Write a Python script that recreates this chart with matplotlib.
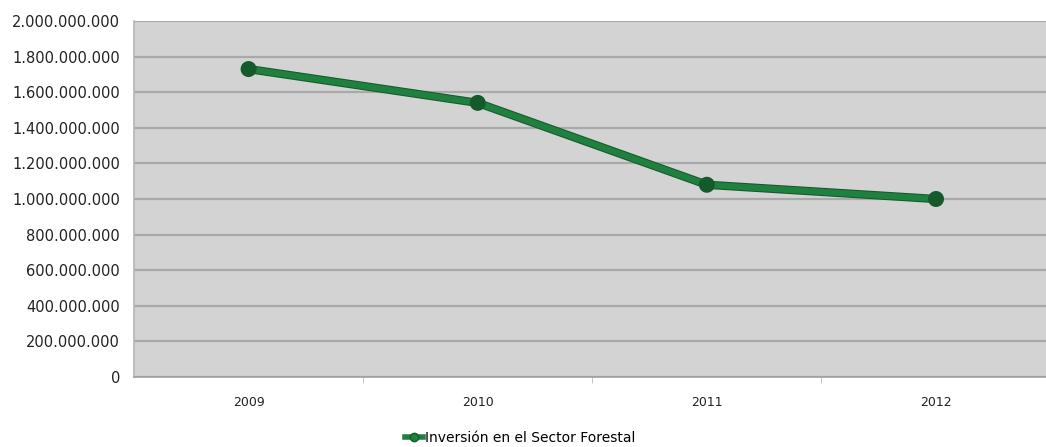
import matplotlib
matplotlib.use("Agg")
from matplotlib import pyplot as plt
from matplotlib.ticker import FuncFormatter, FixedLocator
from matplotlib.lines import Line2D
import matplotlib.patheffects as pe

years = ["2009", "2010", "2011", "2012"]
inversion = [1730000000, 1540000000, 1080000000, 1000000000]
series_name = "Inversión en el Sector Forestal"

LINE_COLOR = "#1f8040"
EDGE_COLOR = "#145a2b"

fig = plt.figure(figsize=(10.46, 4.47), dpi=100)
ax = fig.add_axes([134 / 1046, 1 - 377 / 447, 1 - 134 / 1046, 356 / 447])
ax.set_facecolor("#d3d3d3")

x = list(range(len(years)))
ax.plot(x, inversion, color=LINE_COLOR, linewidth=4.5, marker="o", markersize=5.5,
        markerfacecolor=EDGE_COLOR, markeredgecolor=EDGE_COLOR,
        path_effects=[pe.Stroke(linewidth=6, foreground=EDGE_COLOR), pe.Normal()],
        zorder=3)

ax.set_ylim(0, 2000000000)
ax.set_yticks(range(0, 2000000001, 200000000))
ax.yaxis.set_major_formatter(FuncFormatter(lambda v, p: f"{int(v):,}".replace(",", ".")))
ax.grid(axis="y", color="#a9a9a9", linewidth=1.6)
ax.set_axisbelow(True)

ax.set_xlim(-0.5, 3.48)
ax.set_xticks(x)
ax.set_xticklabels(years)
ax.xaxis.set_minor_locator(FixedLocator([0.5, 1.5, 2.5]))
ax.tick_params(axis="x", which="major", length=0, pad=14, labelsize=9, colors="#222222")
ax.tick_params(axis="x", which="minor", length=4, color="#bbbbbb")
ax.tick_params(axis="y", length=0, pad=10, labelsize=10.5, colors="#222222")

for side in ["top", "right"]:
    ax.spines[side].set_visible(False)
ax.spines["left"].set_color("#b5b5b5")
ax.spines["bottom"].set_color("#a0a0a0")
ax.spines["left"].set_linewidth(1.2)
ax.spines["bottom"].set_linewidth(1.2)

handle = Line2D([], [], color=LINE_COLOR, linewidth=4, marker="o", markersize=6,
                markeredgecolor=EDGE_COLOR)
fig.legend([handle], [series_name], loc="center", bbox_to_anchor=(520 / 1046, 1 - 438 / 447),
           frameon=False, fontsize=10, handlelength=1.3, handletextpad=0.1)

fig.savefig("out.png", dpi=100)
